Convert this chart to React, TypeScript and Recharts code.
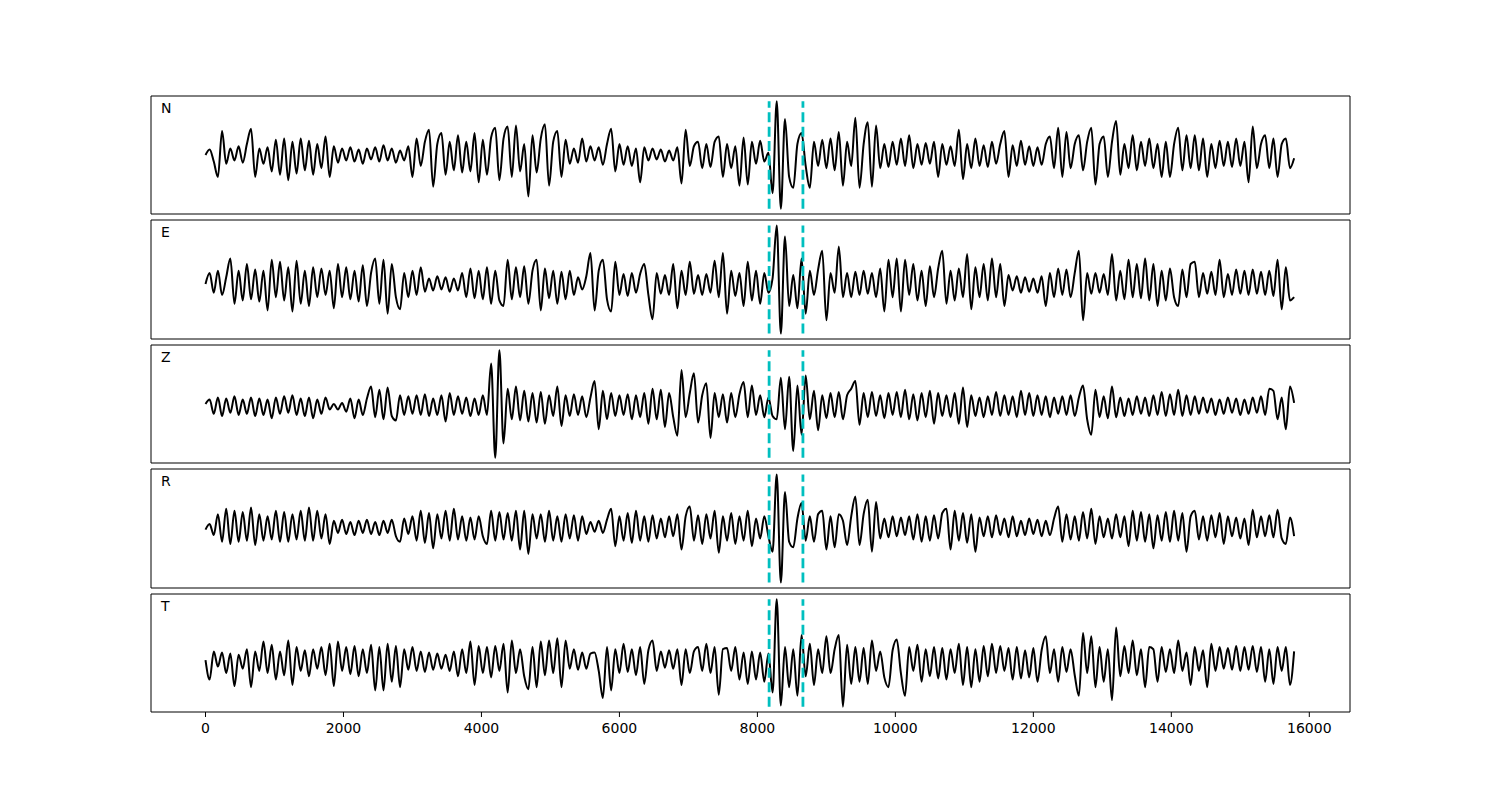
import React from 'react';
import { LineChart, Line, XAxis, YAxis, ReferenceLine, ReferenceArea } from 'recharts';

// one sample every 60 points (px above the trace baseline)
const STEP = 60;
const X_MIN = -790;
const X_MAX = 16590;
const xTicks = [0, 2000, 4000, 6000, 8000, 10000, 12000, 14000, 16000];
const picks = [8170, 8660];

const traceN = [
  0, 5, -6, -20, 22, -8, 6, -5, 8, -7,
  10, 24, -20, 6, -8, 7, -15, 14, -18, 15,
  -23, 12, -17, 15, -14, 13, -18, 10, -12, 17,
  -20, 8, -7, 6, -5, 7, -6, 5, -8, 6,
  -4, 7, -6, 9, -5, 6, -7, 4, -5, 8,
  -20, 15, -10, 12, 23, -29, 10, 20, -18, 12,
  -14, 18, -16, 12, -15, 20, -25, 14, -18, 16,
  25, -23, 15, 26, -20, 27, -15, 10, -38, 18,
  -16, 15, 28, -28, 12, 22, -20, 14, -8, 6,
  -7, 15, -6, 8, -5, 7, -9, 10, 24, -15,
  10, -9, 8, -10, 6, -25, 7, -5, 6, -4,
  5, -6, 4, -5, 7, -26, 23, -10, 8, 12,
  -12, 10, -11, 12, 17, -20, 10, -12, 8, -28,
  16, -27, 12, -8, 13, -6, 2, -35, 49, -49,
  33, -20, -30, 10, 20, -10, -30, 12, -10, 14,
  -12, 15, -14, 21, -28, 12, -10, 34, -30, 10,
  30, -29, 27, -12, 10, -11, 12, -9, 15, -10,
  18, -12, 10, -9, 11, -8, 12, -20, 10, -9,
  8, -10, 23, -22, 10, -12, 15, -10, 9, -11,
  12, -8, 10, 22, -20, 9, -10, 13, -9, 8,
  -10, 7, -9, 10, 17, -12, 25, -20, 21, -12,
  10, 18, -14, 12, 25, -27, 10, 17, -20, 12,
  31, -18, 10, -12, 18, -14, 12, -10, 15, -12,
  10, -20, 12, -20, 10, 25, -14, 18, -12, 18,
  -14, 15, -20, 10, -12, 13, -10, 12, -11, 15,
  -10, 12, -25, 26, -12, 10, 18, -12, 15, -20,
  10, 15, -12, -3,
];

const traceE = [
  0, 10, -8, 12, -10, 6, 23, -18, 12, -15,
  18, -14, 13, -16, 12, -24, 22, -12, 20, -15,
  15, -25, 21, -18, 12, -20, 15, -12, 14, -10,
  12, -22, 18, -12, 15, -14, 12, -16, 17, -20,
  10, 23, -18, 22, -27, 18, -12, -23, 10, -12,
  12, -10, 15, -7, 5, -6, 7, -5, 6, -7,
  5, -6, 10, -12, 14, -13, 12, -14, 15, -18,
  12, -15, -20, 22, -14, 15, -12, 16, -18, 12,
  22, -24, 14, -13, 12, -18, 11, -14, 12, -10,
  6, -5, 7, 28, -24, 12, 22, -14, -25, 20,
  -10, 9, -11, 10, -8, 9, 18, -10, -32, 10,
  -9, 8, -10, 18, -22, 12, -10, 20, -9, 8,
  -10, 9, -8, 21, -12, 28, -27, 12, -11, 10,
  -20, 20, -15, 12, -18, 10, -8, 5, 53, -45,
  43, -20, 8, -22, 23, -27, 12, -10, 13, 30,
  -33, 10, -8, 34, -12, 10, -12, 11, -10, 12,
  -9, 10, -12, 14, -25, 22, -12, 23, -25, 22,
  -10, 18, -15, 12, -20, 16, -12, 14, 30, -18,
  12, -15, 14, -12, 27, -23, 15, -12, 18, -15,
  23, -12, 18, -20, 8, -6, 7, -8, 6, -7,
  5, -8, 7, -20, 10, -12, 14, -10, 13, -12,
  10, 30, -33, 10, -9, 10, -8, 9, -10, 27,
  -15, 12, -14, 22, -12, 18, -13, 23, -15, 18,
  -20, 12, -15, 14, -12, -20, 13, -12, 18, 20,
  -12, 10, -9, 11, -10, 22, -12, 9, -10, 13,
  -9, 12, -10, 13, -9, 11, -10, 12, -11, 22,
  -23, 15, -15, -12,
];

const traceZ = [
  2, 6, -7, 8, -9, 7, -6, 9, -8, 6,
  -7, 8, -9, 7, -8, 6, -11, 8, -7, 9,
  -6, 10, -8, 7, -9, 8, -11, 6, -7, 8,
  -3, 2, -3, 3, -5, 7, -11, 6, -8, 7,
  18, -10, 15, -12, 17, -9, -13, 10, -8, 9,
  -7, 10, -8, 11, -9, 7, -8, 10, -14, 12,
  -8, 9, -7, 8, -9, 7, -8, 10, -8, 39,
  -47, 51, -34, 16, -12, 18, -13, 14, -14, 12,
  -15, 13, -16, 10, -9, 18, -18, 10, -9, 11,
  -8, 9, -10, 8, 23, -21, 14, -12, 12, -9,
  10, -8, 11, -12, 10, -10, 12, -16, 16, -12,
  15, -19, 12, -10, -27, 33, -10, 12, 30, -15,
  10, 21, -29, 12, -10, 11, -15, 12, -10, 11,
  22, -10, 19, -8, 10, -10, 8, -9, -12, 26,
  -21, 27, -41, 19, -26, 28, -12, 14, -22, 10,
  -11, 12, -10, 13, -12, 10, 16, 23, -17, 12,
  -10, 13, -9, 10, -11, 12, -8, 13, -10, 15,
  -12, 11, -13, 12, -10, 14, -16, 12, -9, 10,
  -10, 12, -16, 17, -19, 10, -9, 8, -10, 9,
  -8, 13, -9, 10, -8, 9, -10, 14, -8, 12,
  -9, 10, -8, 9, -10, 8, -7, 9, -8, 10,
  -9, 8, 19, -12, -26, 15, -10, 9, -11, 18,
  -10, 8, -9, 7, -8, 9, -7, 8, -9, 10,
  -8, 13, -9, 11, -8, 15, -9, 10, -8, 9,
  -7, 8, -6, 7, -8, 6, -7, 8, -6, 7,
  -8, 6, -7, 8, -6, 9, -8, 16, 14, -12,
  8, -21, 18, 3,
];

const traceR = [
  -2, 3, -7, 12, -13, 17, -15, 15, -13, 14,
  -12, 18, -16, 12, -12, 10, -11, 15, -13, 14,
  -13, 12, -11, 15, -12, 18, -12, 15, -10, 12,
  -15, 6, -5, 7, -6, 5, -7, 6, -5, 7,
  -6, 5, -7, 6, -5, 7, -8, -13, 8, -6,
  10, -12, 15, -14, 13, -19, 12, -10, 15, -12,
  17, -11, 10, -12, 9, -11, 10, -8, -15, 15,
  -12, 14, -11, 13, -12, 15, -20, 15, -24, 12,
  -10, 12, -13, 15, -12, 10, -13, 12, -10, 11,
  -12, 10, -6, 5, -4, 6, -5, 7, 17, -17,
  10, -12, 13, -14, 15, -12, 10, -13, 11, -10,
  8, -9, 10, -8, 12, -20, 10, 19, -12, 11,
  -15, 12, -10, 15, -23, 10, -12, 13, -15, 10,
  -12, 15, -17, 8, -10, 10, -8, -22, 48, -50,
  32, -13, -18, 8, 22, -12, 10, -13, 12, 15,
  -20, 10, -18, 12, 6, -16, 10, 28, -16, 12,
  25, -22, 23, -10, 8, -9, 10, -8, 9, -7,
  10, -11, 12, -13, 10, -12, 11, -10, 13, 17,
  -20, 15, -12, 13, -14, 12, -22, 9, -8, 10,
  -9, 11, -7, 8, -9, 10, -8, 6, -7, 8,
  -6, 7, -8, 6, -7, 8, 19, -13, 12, -11,
  10, -12, 14, -10, 17, -15, 10, -9, 8, -10,
  12, -9, 10, -17, 15, -12, 14, -13, 12, -19,
  11, -12, 14, -13, 15, -12, 13, -22, 10, 15,
  -11, 10, -12, 11, -9, 13, -15, 10, -8, 9,
  -10, 8, -16, 16, -9, 10, -8, 11, -9, 16,
  -10, -15, 9, -8,
];

const traceT = [
  0, -18, 8, -6, 7, -12, 6, -24, 5, -8,
  10, -25, 8, -10, 17, -12, 14, -18, 8, -14,
  18, -23, 12, -10, 9, -15, 10, -8, 12, -14,
  15, -24, 17, -10, 12, -13, 13, -15, 10, -12,
  14, -28, 12, -28, 15, -20, 13, -25, 10, -9,
  12, -10, 8, -11, 7, -9, 6, -8, 5, -10,
  8, -15, 10, -12, 17, -23, 13, -12, 12, -16,
  13, -10, 15, -30, 18, -12, 10, -15, -27, 12,
  -25, 17, -14, 18, -12, 20, -25, 18, -8, 10,
  -9, 7, -8, 6, 7, -10, -35, 12, -28, 10,
  -12, 15, -11, 10, -14, 12, -22, 9, 18, -10,
  8, -7, 9, -8, 10, -23, 10, -12, 8, 12,
  -10, 15, -12, 12, -32, 10, 11, -10, 12, -18,
  7, -22, 8, -18, 7, -20, 6, -30, 56, -42,
  12, -25, 10, -33, 23, -15, 15, -23, 10, -12,
  22, -12, 10, 23, -43, 14, -22, 12, -20, 11,
  -22, 18, -10, 8, -16, -25, 9, 19, -12, -33,
  12, -10, 14, -20, 10, -15, 12, -17, 11, -18,
  10, -12, 15, -23, 12, -25, 10, -20, 13, -15,
  15, -12, 13, -10, 11, -18, 12, -17, 9, -16,
  11, -20, 9, 22, -12, 10, -20, 12, -11, 10,
  -14, -33, 25, -12, 22, -25, 12, -20, 10, -37,
  30, -15, 13, -12, 18, -14, 10, -25, 12, 10,
  -20, 12, -11, 10, -12, 18, -10, 7, -23, 12,
  -10, 9, -25, 15, -10, 12, -8, 11, -9, 13,
  -10, 12, -9, 13, -11, 12, -20, 10, -22, 12,
  -10, 12, -23, 8,
];

const panels = [
  { name: 'N', trace: traceN, top: 96, h: 118 },
  { name: 'E', trace: traceE, top: 220, h: 119 },
  { name: 'Z', trace: traceZ, top: 345, h: 118 },
  { name: 'R', trace: traceR, top: 469, h: 119 },
  { name: 'T', trace: traceT, top: 594, h: 118 },
];

function Panel({ name, trace, top, h, last }: { name: string; trace: number[]; top: number; h: number; last: boolean }) {
  const data = trace.map((v, i) => ({ x: i * STEP, v }));
  const lo = Math.min(...trace);
  const hi = Math.max(...trace);
  const pad = (hi - lo) * 0.05;
  const axisH = last ? 40 : 8;

  return (
    <div style={{ position: 'absolute', left: 0, top: top - 1 }}>
      <LineChart width={1500} height={h + axisH + 1} data={data} margin={{ top: 1, right: 150, bottom: 0, left: 151 }}>
        <XAxis
          dataKey="x"
          type="number"
          domain={[X_MIN, X_MAX]}
          ticks={xTicks}
          interval={0}
          allowDataOverflow
          axisLine={false}
          tickLine={{ stroke: '#000' }}
          tickSize={5}
          tickMargin={6}
          height={axisH}
          tick={last ? { fill: '#000', fontSize: 14 } : false}
        />
        <YAxis hide type="number" domain={[lo - pad, hi + pad]} allowDataOverflow />
        <ReferenceArea x1={X_MIN} x2={X_MAX} y1={lo - pad} y2={hi + pad} fill="none" stroke="#000" strokeWidth={1} />
        <Line dataKey="v" type="monotone" stroke="#000" strokeWidth={2} dot={false} isAnimationActive={false} />
        {picks.map((p) => (
          <ReferenceLine
            key={p}
            segment={[{ x: p, y: lo }, { x: p, y: hi }]}
            stroke="#00bfbf"
            strokeWidth={2.8}
            strokeDasharray="10 4.4"
          />
        ))}
      </LineChart>
      <div style={{ position: 'absolute', left: 161, top: 6, fontSize: 14, lineHeight: '14px' }}>{name}</div>
    </div>
  );
}

export default function App() {
  return (
    <div
      style={{
        position: 'absolute',
        left: 0,
        top: 0,
        width: 1500,
        height: 800,
        background: '#fff',
        fontFamily: '"DejaVu Sans", sans-serif',
      }}
    >
      {panels.map((p, i) => (
        <Panel key={p.name} {...p} last={i === panels.length - 1} />
      ))}
    </div>
  );
}
